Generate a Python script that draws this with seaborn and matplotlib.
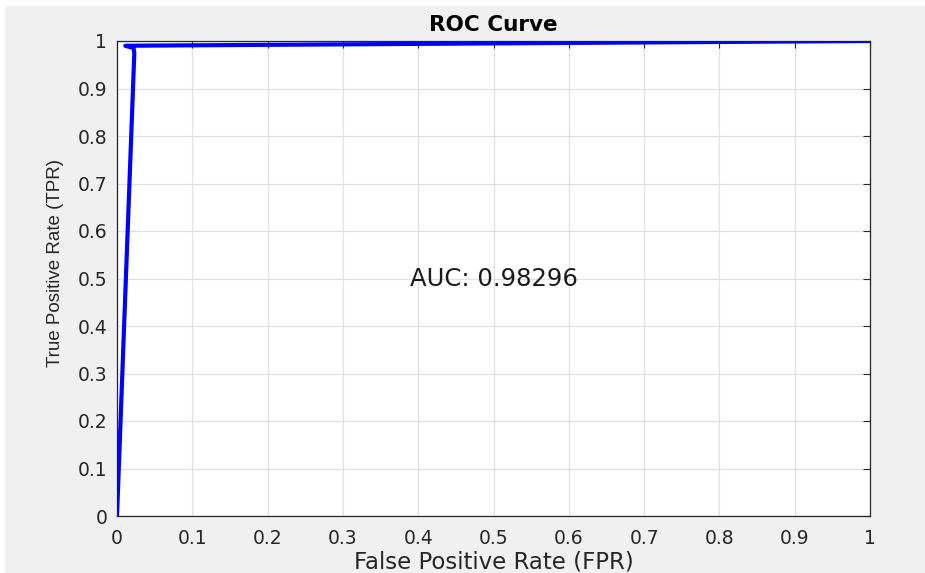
import matplotlib
matplotlib.use("Agg")
import matplotlib.pyplot as plt
import seaborn as sns
import pandas as pd
from matplotlib.patches import Rectangle

# ROC operating points
fpr = [0.0, 0.023, 0.022, 0.011, 1.0]
tpr = [0.0, 0.975, 0.985, 0.990, 1.0]
auc_value = 0.98296

tick_values = [0, 0.1, 0.2, 0.3, 0.4, 0.5, 0.6, 0.7, 0.8, 0.9, 1]
tick_labels = ["0", "0.1", "0.2", "0.3", "0.4", "0.5", "0.6", "0.7", "0.8", "0.9", "1"]

sns.set_style("white")
plt.rcParams["font.family"] = ["DejaVu Sans"]

fig = plt.figure(figsize=(9.25, 5.73), dpi=100, facecolor="white")
# grey window background with a thin white margin at top/left
fig.patches.append(Rectangle((5 / 925, 0), 1 - 5 / 925, 1 - 6 / 573,
                             transform=fig.transFigure, facecolor="#F0F0F0",
                             edgecolor="none", zorder=-10))

ax = fig.add_axes([117 / 925, 1 - 516 / 573, (870 - 117) / 925, (516 - 41) / 573])
ax.set_facecolor("white")

df = pd.DataFrame({"FPR": fpr, "TPR": tpr})
sns.lineplot(data=df, x="FPR", y="TPR", sort=False, estimator=None,
             color="#0000FF", linewidth=3, ax=ax, zorder=5)

ax.set_xlim(0, 1)
ax.set_ylim(0, 1)
ax.set_xticks(tick_values)
ax.set_xticklabels(tick_labels)
ax.set_yticks(tick_values)
ax.set_yticklabels(tick_labels)
ax.grid(True, color="#E0E0E0", linewidth=0.9)
ax.set_axisbelow(True)
ax.tick_params(direction="in", length=5, width=0.8, colors="#262626",
               labelsize=13.5, top=True, right=True)
ax.tick_params(axis="x", pad=9)
ax.tick_params(axis="y", pad=7)
for s in ax.spines.values():
    s.set_color("#262626")
    s.set_linewidth(0.9)
    s.set_visible(True)

ax.set_xlabel("False Positive Rate (FPR)", fontsize=16.5, color="#262626", labelpad=2)
ax.set_ylabel("True Positive Rate (TPR)", fontsize=13.5, color="#262626",
              family=["Liberation Sans", "DejaVu Sans"])
ax.yaxis.set_label_coords(-0.07, 0.533)
ax.set_title("ROC Curve", fontsize=15.5, fontweight="bold", color="#000000", pad=7)

ax.text(0.5, 0.5, f"AUC: {auc_value:.5f}", fontsize=17.5, color="#1a1a1a",
        ha="center", va="center")

fig.savefig("out.png", dpi=100, facecolor=fig.get_facecolor())
